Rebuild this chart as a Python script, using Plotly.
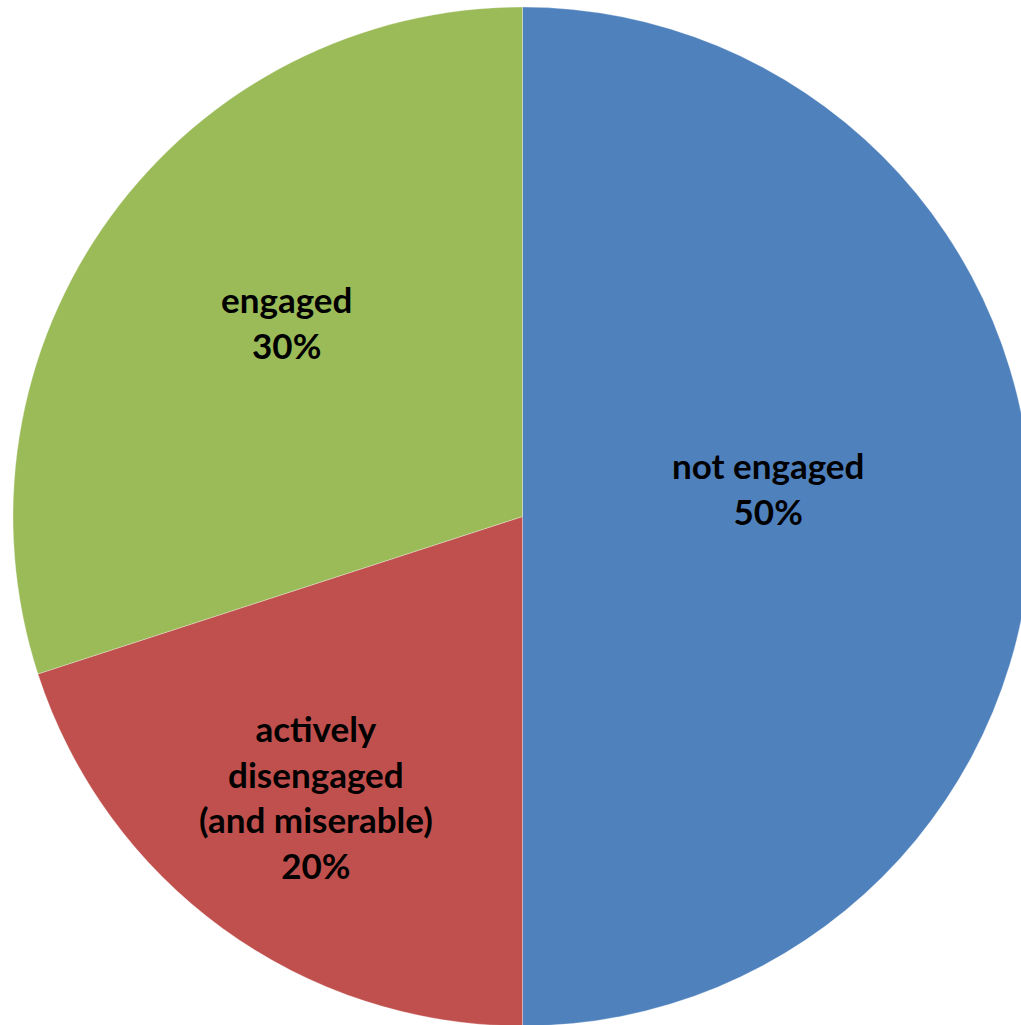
import math
import plotly.graph_objects as go

# Engagement breakdown
categories = ["not engaged", "actively<br>disengaged<br>(and miserable)", "engaged"]
values = [50, 20, 30]
colors = ["#4F81BD", "#C0504D", "#9BBB59"]

# label placement: fraction of radius along each slice's mid-angle, plus pixel nudges
label_radius = [0.482, 0.689, 0.60]
label_nudge = [(0, 29), (0, 4), (11, 15)]

W, H = 1044, 1034
CX, CY, R = 522.5, 516.5, 509.5

fig = go.Figure(
    go.Pie(
        labels=categories,
        values=values,
        sort=False,
        direction="clockwise",
        rotation=0,
        marker=dict(colors=colors, line=dict(color="white", width=0.3)),
        textinfo="none",
        hoverinfo="label+percent",
        showlegend=False,
        domain=dict(x=[(CX - R) / W, (CX + R) / W], y=[1 - (CY + R) / H, 1 - (CY - R) / H]),
    )
)

total = sum(values)
start = 0.0
annotations = []
for name, v, f, (nx, ny) in zip(categories, values, label_radius, label_nudge):
    mid = (start + v / 2) / total * 2 * math.pi
    start += v
    px = CX + f * R * math.sin(mid)
    py = CY - f * R * math.cos(mid)
    annotations.append(
        dict(
            x=px / W, y=1 - py / H, xref="paper", yref="paper",
            text=f"{name}<br>{round(100 * v / total)}%",
            showarrow=False, xanchor="center", yanchor="middle",
            xshift=nx, yshift=ny,
            font=dict(family="Lato", size=35, color="black", weight="bold"),
        )
    )

fig.update_layout(
    width=W, height=H,
    margin=dict(l=0, r=0, t=0, b=0),
    paper_bgcolor="white", plot_bgcolor="white",
    annotations=annotations,
)

fig.write_html(
    "out.html",
    post_script="document.documentElement.style.overflow='hidden';document.body.style.overflow='hidden';document.body.style.margin='0';",
)
